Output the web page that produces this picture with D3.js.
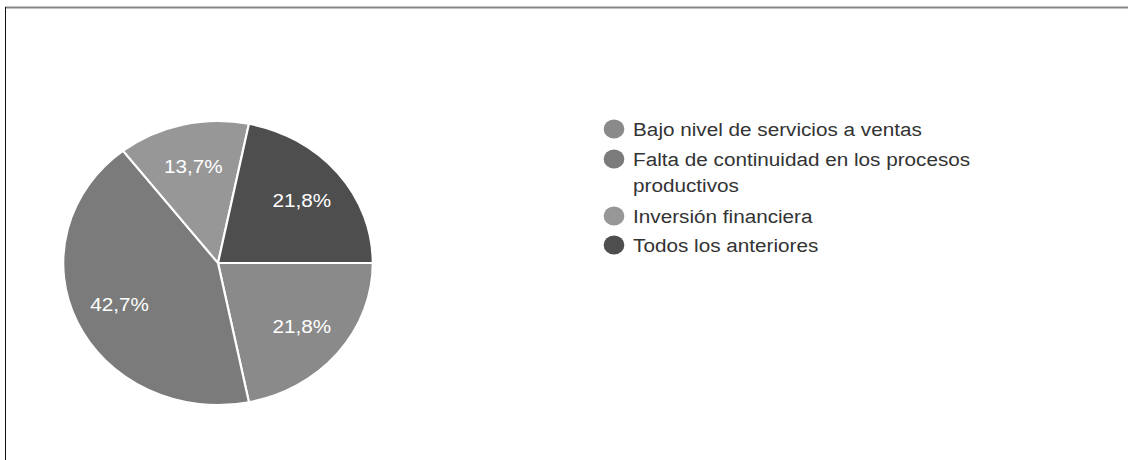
<!DOCTYPE html>
<html>
<head>
<meta charset="utf-8">
<script src="https://cdn.jsdelivr.net/npm/d3@7"></script>
<style>
  html, body { margin: 0; padding: 0; background: #fff; }
  svg { display: block; font-family: "Liberation Sans", Arial, sans-serif; }
</style>
</head>
<body>
<svg id="chart" width="1128" height="460"></svg>
<script>
const categories = [
  "Bajo nivel de servicios a ventas",
  "Falta de continuidad en los procesos productivos",
  "Inversión financiera",
  "Todos los anteriores"
];
const values = [21.8, 42.7, 13.7, 21.8];
const valueLabels = ["21,8%", "42,7%", "13,7%", "21,8%"];
const legendLines = [
  ["Bajo nivel de servicios a ventas"],
  ["Falta de continuidad en los procesos", "productivos"],
  ["Inversión financiera"],
  ["Todos los anteriores"]
];
const colors = ["#8a8a8a", "#7b7b7b", "#979797", "#4e4e4e"];

const svg = d3.select("#chart");

// frame
svg.append("line").attr("x1", 5).attr("x2", 1128).attr("y1", 7.5).attr("y2", 7.5)
  .attr("stroke", "#858585").attr("stroke-width", 2);
svg.append("line").attr("x1", 5.5).attr("x2", 5.5).attr("y1", 7).attr("y2", 460)
  .attr("stroke", "#111").attr("stroke-width", 1);

// pie
const r = 142;
const sx = 1.09;
const g = svg.append("g").attr("transform", `translate(218,263) scale(${sx},1)`);
const pie = d3.pie().sort(null).value(d => d)
  .startAngle(Math.PI / 2).endAngle(Math.PI / 2 + 2 * Math.PI);
const arcs = pie(values);
const arc = d3.arc().innerRadius(0).outerRadius(r);
const labelArc = d3.arc().innerRadius(r * 0.7).outerRadius(r * 0.7);

g.selectAll("path.slice").data(arcs).join("path")
  .attr("class", "slice")
  .attr("d", arc)
  .attr("fill", (d, i) => colors[i])
  .attr("stroke", "#fff")
  .attr("stroke-width", 2)
  .attr("stroke-linejoin", "round");

g.selectAll("text.val").data(arcs).join("text")
  .attr("class", "val")
  .attr("transform", d => { const c = labelArc.centroid(d); return `translate(${c[0]},${c[1]})`; })
  .attr("text-anchor", "middle")
  .attr("dy", "0.36em")
  .attr("fill", "#fff")
  .attr("font-size", 19)
  .text((d, i) => valueLabels[i]);

// legend
const legY = [129, 159, 216, 245];
const leg = svg.append("g").attr("transform", `translate(614,0) scale(${sx},1)`);
categories.forEach((c, i) => {
  const row = leg.append("g");
  row.append("circle").attr("cx", 0).attr("cy", legY[i]).attr("r", 9.5).attr("fill", colors[i]);
  const t = row.append("text").attr("x", 17.5).attr("y", legY[i])
    .attr("font-size", 19).attr("fill", "#333");
  legendLines[i].forEach((line, j) => {
    t.append("tspan").attr("x", 17.5).attr("dy", j === 0 ? "0.36em" : 26).text(line);
  });
});
</script>
</body>
</html>
